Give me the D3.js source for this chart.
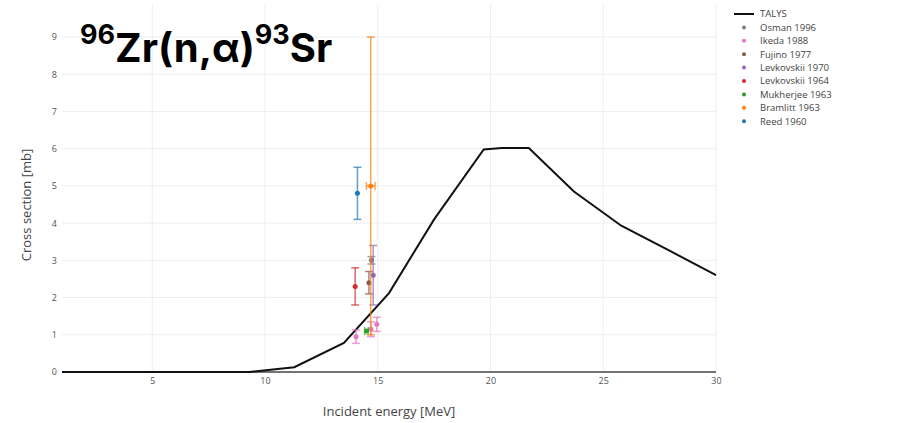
<!DOCTYPE html>
<html>
<head>
<meta charset="utf-8">
<script src="https://cdn.jsdelivr.net/npm/d3@7"></script>
<style>
  body { margin: 0; background: #fff; }
  svg { display: block; font-family: "Open Sans", sans-serif; }
</style>
</head>
<body>
<div id="chart"></div>
<script>
// TALYS calculation
const talysE = [1, 9.3, 11.3, 13.5, 15.5, 17.5, 19.7, 20.5, 21.7, 23.7, 25.8, 28, 30];
const talysXS = [0, 0, 0.13, 0.78, 2.12, 4.1, 5.98, 6.02, 6.02, 4.85, 3.93, 3.24, 2.6];

// experimental data: energy, cross section, y error, x error
const osmanE = [14.72], osmanXS = [3.0], osmanDy = [0.1], osmanDx = [0];
const ikedaE = [14.04, 14.7, 14.96], ikedaXS = [0.95, 1.15, 1.28], ikedaDy = [0.18, 0.2, 0.19], ikedaDx = [0, 0, 0];
const fujinoE = [14.61], fujinoXS = [2.4], fujinoDy = [0.3], fujinoDx = [0];
const levk70E = [14.8], levk70XS = [2.6], levk70Dy = [0.8], levk70Dx = [0];
const levk64E = [14.0], levk64XS = [2.3], levk64Dy = [0.5], levk64Dx = [0];
const mukhE = [14.5], mukhXS = [1.1], mukhDy = [0], mukhDx = [0.08];
const bramE = [14.69], bramXS = [5.0], bramDy = [4.0], bramDx = [0.19];
const reedE = [14.1], reedXS = [4.8], reedDy = [0.7], reedDx = [0];

const seriesNames = ["Osman 1996", "Ikeda 1988", "Fujino 1977", "Levkovskii 1970",
    "Levkovskii 1964", "Mukherjee 1963", "Bramlitt 1963", "Reed 1960"];
const xTicks = [5, 10, 15, 20, 25, 30];
const yTicks = [0, 1, 2, 3, 4, 5, 6, 7, 8, 9];

// plotly-ish default colours, same order as the names
const colors = ["#7f7f7f", "#e377c2", "#8c564b", "#9467bd", "#d62728", "#2ca02c", "#ff7f0e", "#1f77b4"];

const experiments = [
    [osmanE, osmanXS, osmanDy, osmanDx],
    [ikedaE, ikedaXS, ikedaDy, ikedaDx],
    [fujinoE, fujinoXS, fujinoDy, fujinoDx],
    [levk70E, levk70XS, levk70Dy, levk70Dx],
    [levk64E, levk64XS, levk64Dy, levk64Dx],
    [mukhE, mukhXS, mukhDy, mukhDx],
    [bramE, bramXS, bramDy, bramDx],
    [reedE, reedXS, reedDy, reedDx]
].map((s, i) => ({
    name: seriesNames[i],
    color: colors[i],
    points: s[0].map((e, j) => ({ e: e, xs: s[1][j], dy: s[2][j], dx: s[3][j] }))
}));

const W = 920, H = 423;
const plot = { left: 62, right: 716, top: 4, bottom: 372 };

const svg = d3.select("#chart").append("svg")
    .attr("width", W)
    .attr("height", H);

const x = d3.scaleLinear().domain([1, 30]).range([plot.left, plot.right]);
const y = d3.scaleLinear().domain([0, 9]).range([plot.bottom, 37]);

// grid
svg.append("g").selectAll("line")
    .data(xTicks)
    .join("line")
    .attr("x1", d => x(d)).attr("x2", d => x(d))
    .attr("y1", plot.top).attr("y2", plot.bottom)
    .attr("stroke", "#eeeeee").attr("stroke-width", 1);

svg.append("g").selectAll("line")
    .data(yTicks.filter(d => d > 0))
    .join("line")
    .attr("x1", plot.left).attr("x2", plot.right)
    .attr("y1", d => y(d)).attr("y2", d => y(d))
    .attr("stroke", "#eeeeee").attr("stroke-width", 1);

// axes (tick labels only, plotly style)
const xAxis = svg.append("g")
    .attr("transform", `translate(0, ${plot.bottom})`)
    .call(d3.axisBottom(x).tickValues(xTicks).tickSize(0).tickPadding(6));
xAxis.select(".domain").remove();
xAxis.selectAll("text").attr("fill", "#555").attr("font-size", 9).attr("font-family", "Open Sans");

const yAxis = svg.append("g")
    .attr("transform", `translate(${plot.left}, 0)`)
    .call(d3.axisLeft(y).tickValues(yTicks).tickSize(0).tickPadding(5));
yAxis.select(".domain").remove();
yAxis.selectAll("text").attr("fill", "#555").attr("font-size", 9).attr("font-family", "Open Sans");

// zero line
svg.append("line")
    .attr("x1", plot.left).attr("x2", plot.right)
    .attr("y1", y(0)).attr("y2", y(0))
    .attr("stroke", "#444").attr("stroke-width", 1.5);

// axis titles
svg.append("text")
    .attr("x", (plot.left + plot.right) / 2)
    .attr("y", 416)
    .attr("text-anchor", "middle")
    .attr("font-size", 13)
    .attr("fill", "#444")
    .text("Incident energy [MeV]");

svg.append("text")
    .attr("transform", `translate(31, 205) rotate(-90)`)
    .attr("text-anchor", "middle")
    .attr("font-size", 13)
    .attr("fill", "#444")
    .text("Cross section [mb]");

// TALYS line
const line = d3.line()
    .x((d, i) => x(talysE[i]))
    .y(d => y(d));

svg.append("path")
    .datum(talysXS)
    .attr("d", line)
    .attr("fill", "none")
    .attr("stroke", "#111")
    .attr("stroke-width", 2);

// experimental points with error bars
const cap = 4;
experiments.forEach(s => {
    const g = svg.append("g");
    s.points.forEach(p => {
        const cx = x(p.e), cy = y(p.xs);
        if (p.dy > 0) {
            const y0 = y(p.xs - p.dy), y1 = y(p.xs + p.dy);
            g.append("line").attr("x1", cx).attr("x2", cx).attr("y1", y0).attr("y2", y1)
                .attr("stroke", s.color).attr("stroke-width", 1.5).attr("opacity", 0.7);
            [y0, y1].forEach(yy => g.append("line")
                .attr("x1", cx - cap).attr("x2", cx + cap).attr("y1", yy).attr("y2", yy)
                .attr("stroke", s.color).attr("stroke-width", 1.5).attr("opacity", 0.7));
        }
        if (p.dx > 0) {
            const x0 = x(p.e - p.dx), x1 = x(p.e + p.dx);
            g.append("line").attr("x1", x0).attr("x2", x1).attr("y1", cy).attr("y2", cy)
                .attr("stroke", s.color).attr("stroke-width", 1.5).attr("opacity", 0.7);
            [x0, x1].forEach(xx => g.append("line")
                .attr("x1", xx).attr("x2", xx).attr("y1", cy - cap).attr("y2", cy + cap)
                .attr("stroke", s.color).attr("stroke-width", 1.5).attr("opacity", 0.7));
        }
        g.append("circle").attr("cx", cx).attr("cy", cy).attr("r", 2.5).attr("fill", s.color);
    });
});

// legend
const legend = svg.append("g").attr("transform", "translate(734, 14)");
const rowH = 13.4;
legend.append("line")
    .attr("x1", 0).attr("x2", 20).attr("y1", 0).attr("y2", 0)
    .attr("stroke", "#111").attr("stroke-width", 2);
legend.append("text")
    .attr("x", 26).attr("y", 3)
    .attr("font-size", 9.5).attr("fill", "#444")
    .text("TALYS");
experiments.forEach((s, i) => {
    const ly = (i + 1) * rowH;
    legend.append("circle").attr("cx", 10).attr("cy", ly).attr("r", 2).attr("fill", s.color);
    legend.append("text")
        .attr("x", 26).attr("y", ly + 3.3)
        .attr("font-size", 9.5).attr("fill", "#444")
        .text(s.name);
});

// big title
const title = svg.append("text")
    .attr("x", 80).attr("y", 62)
    .attr("font-family", "Inter, Liberation Sans, Arial, sans-serif")
    .attr("font-weight", "bold")
    .attr("fill", "#000");
title.append("tspan").attr("font-size", 27).attr("dy", -18).text("96");
title.append("tspan").attr("font-size", 40).attr("dy", 18).text("Zr(n,α)");
title.append("tspan").attr("font-size", 27).attr("dy", -18).text("93");
title.append("tspan").attr("font-size", 40).attr("dy", 18).text("Sr");
</script>
</body>
</html>
